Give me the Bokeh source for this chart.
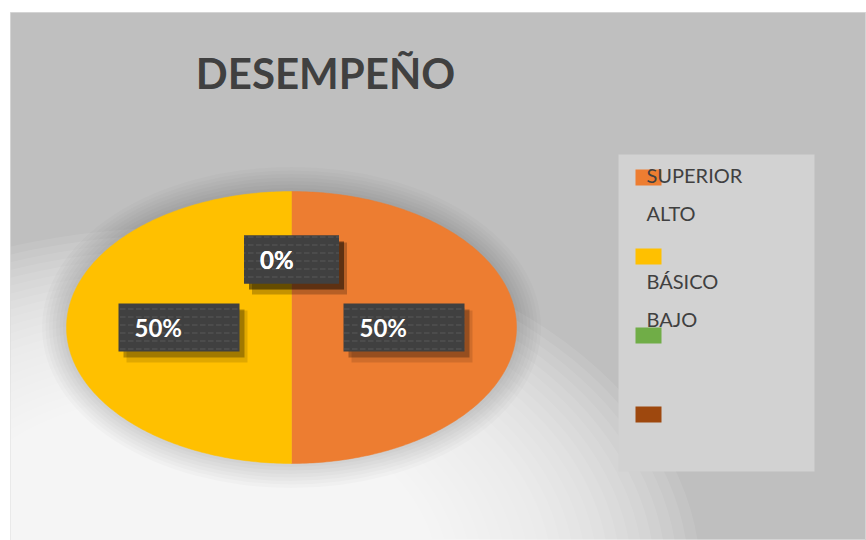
import numpy as np
from bokeh.plotting import figure
from bokeh.models import Range1d, ColumnDataSource
from bokeh.core.properties import value
from bokeh.embed import file_html
from bokeh.resources import INLINE

# ---------------- data ----------------
title_text = "DESEMPEÑO"
categories = ["SUPERIOR", "ALTO", "BÁSICO", "BAJO"]
values = [50, 50, 0, 0]
colors = ["#ED7D31", "#FFC000", "#70AD47", "#9E480E"]

# ---------------- layout ----------------
W, H = 866, 540
BL, BT = 10, 12
FW, FH = W - BL, H - BT
CX, CY, RX, RY = 281, 315, 225, 136
FONT = "Lato"

p = figure(width=W, height=H, x_range=Range1d(0, FW), y_range=Range1d(FH, 0),
           output_backend="svg", toolbar_location=None,
           x_axis_location=None, y_axis_location=None,
           min_border_left=BL, min_border_top=BT, min_border_right=0, min_border_bottom=0)
p.grid.visible = False
p.background_fill_color = "#bfbfbf"
p.border_fill_color = "white"
p.outline_line_color = "#d4d4d4"

# soft white light at the bottom-left
n = 36
for k in range(n):
    f = 1 - k / n
    p.ellipse(x=[170], y=[565], width=[2 * (110 + 410 * f)], height=[2 * (90 + 260 * f)],
              fill_color="white", fill_alpha=0.09, line_color=None)

# pie shadow halo
for k in range(7, 0, -1):
    p.ellipse(x=[CX], y=[CY], width=[2 * (RX + 3.5 * k)], height=[2 * (RY + 3.5 * k)],
              fill_color="black", fill_alpha=0.018, line_color=None)

# ---------------- pie ----------------
total = float(sum(values))
ends = np.cumsum(values) / total * 2 * np.pi
starts = np.concatenate([[0], ends[:-1]])
xs, ys, cs = [], [], []
for v, a0, a1, c in zip(values, starts, ends, colors):
    if v <= 0:
        continue
    t = np.linspace(a0, a1, 200)
    xs.append([CX] + list(CX + RX * np.sin(t)))
    ys.append([CY] + list(CY - RY * np.cos(t)))
    cs.append(c)
p.patches(xs=xs, ys=ys, fill_color=cs, line_color=cs, line_width=0.5)

# ---------------- data labels ----------------
mids = (starts + ends) / 2
labels = [f"{v / total * 100:.0f}%" for v in values]
lx = CX + 0.5 * RX * np.sin(mids)
ly = CY - 0.5 * RY * np.cos(mids)
bw = np.array([43 + 26 * len(s) for s in labels])
src = ColumnDataSource(dict(x=lx, y=ly, w=bw, t=labels, xo=-bw / 2 + 16,
                            sx1=lx + 5, sy1=ly + 6, sx2=lx + 8, sy2=ly + 9))
p.rect(x="sx2", y="sy2", width="w", height=52, source=src,
       fill_color="black", fill_alpha=0.12, line_color=None)
p.rect(x="sx1", y="sy1", width="w", height=48, source=src,
       fill_color="black", fill_alpha=0.28, line_color=None)
p.rect(x="x", y="y", width="w", height=48, source=src,
       fill_color="#404040", line_color=None,
       hatch_pattern="horizontal_dash", hatch_color="#585858", hatch_alpha=0.5,
       hatch_scale=8, hatch_weight=2)
p.text(x="x", y="y", text="t", x_offset="xo", source=src,
       text_font=value(FONT), text_font_style="bold", text_font_size="24px",
       text_color="white", text_align="left", text_baseline="middle")

# ---------------- title ----------------
p.text(x=[315], y=[60], text=[title_text], text_font=value(FONT), text_font_style="bold",
       text_font_size="42px", text_color="#404040", text_align="center", text_baseline="middle")

# ---------------- legend ----------------
p.rect(x=[706], y=[300.5], width=[196], height=[317], fill_color="#d2d2d2", line_color=None)
sq_y = [165 + 79 * i for i in range(len(colors))]
p.rect(x=[638] * len(colors), y=sq_y, width=26, height=16, fill_color=colors, line_color=None)
lab_y = [162, 200, 268, 306]
p.text(x=[636] * len(categories), y=lab_y, text=categories, text_font=value(FONT),
       text_font_size="20px", text_color="#404040", text_align="left", text_baseline="middle")

open("out.html", "w").write(file_html(p, INLINE))
